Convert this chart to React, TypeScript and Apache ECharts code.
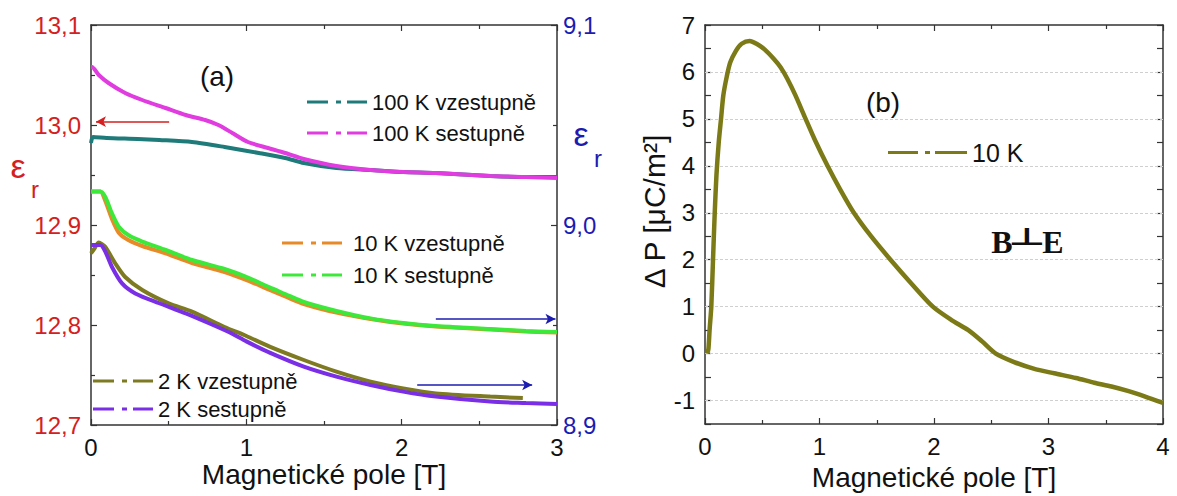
import React, { useEffect, useRef } from "react";
import * as echarts from "echarts";

// ---------- Panel (a): permittivity vs field ----------
const teal100T = [0, 0.013, 0.1, 0.3, 0.44, 0.65, 0.86, 1.08, 1.25, 1.37, 1.58, 1.8, 2.01, 2.22, 2.57, 2.8, 3.0];
const teal100V = [12.982, 12.988, 12.987, 12.986, 12.985, 12.983, 12.978, 12.972, 12.967, 12.962, 12.957, 12.955, 12.953, 12.952, 12.949, 12.948, 12.948];

const mag100T = [0, 0.006, 0.05, 0.113, 0.22, 0.33, 0.48, 0.61, 0.735, 0.82, 0.91, 1.01, 1.14, 1.25, 1.37, 1.58, 1.8, 2.01, 2.22, 2.57, 2.8, 3.0];
const mag100V = [13.058, 13.058, 13.05, 13.042, 13.032, 13.025, 13.017, 13.01, 13.005, 13.0, 12.992, 12.983, 12.977, 12.972, 12.966, 12.959, 12.955, 12.953, 12.952, 12.949, 12.948, 12.947];

const t10T = [0, 0.06, 0.092, 0.135, 0.18, 0.24, 0.33, 0.48, 0.65, 0.86, 1.01, 1.15, 1.25, 1.37, 1.58, 1.8, 2.01, 2.22, 2.57, 2.8, 3.0];
const green10R = [9.0167, 9.0167, 9.014, 9.0058, 8.999, 8.995, 8.9917, 8.9875, 8.9825, 8.978, 8.9737, 8.9688, 8.9655, 8.9615, 8.957, 8.9533, 8.951, 8.9495, 8.948, 8.947, 8.9465];
const orange10R = [9.0167, 9.0167, 9.012, 9.003, 8.996, 8.9925, 8.9895, 8.9858, 8.981, 8.9765, 8.9722, 8.9675, 8.9643, 8.9605, 8.9562, 8.953, 8.9507, 8.9493, 8.9478, 8.9468, 8.9463];

const olive2T = [0, 0.02, 0.05, 0.09, 0.156, 0.22, 0.33, 0.5, 0.65, 0.86, 1.0, 1.15, 1.37, 1.58, 1.8, 2.01, 2.22, 2.57, 2.78];
const olive2R = [8.9858, 8.988, 8.9912, 8.9892, 8.9808, 8.974, 8.9675, 8.9608, 8.9567, 8.949, 8.9445, 8.9392, 8.9325, 8.9267, 8.9217, 8.9183, 8.9158, 8.9142, 8.9135];

const violet2T = [0, 0.06, 0.092, 0.135, 0.2, 0.285, 0.435, 0.61, 0.756, 0.9, 1.0, 1.15, 1.37, 1.58, 1.8, 2.01, 2.22, 2.57, 2.8, 3.0];
const violet2R = [8.99, 8.99, 8.9867, 8.979, 8.9708, 8.9658, 8.961, 8.9558, 8.951, 8.946, 8.9418, 8.9362, 8.9292, 8.9242, 8.92, 8.9167, 8.9142, 8.9117, 8.911, 8.9105];

// arrows (data coordinates): [T start, T end, value]
const redArrow = [0.503, 0.032, 13.0033];
const blueArrow10 = [2.22, 2.99, 8.953];
const blueArrow2 = [2.1, 2.84, 8.92];

const leftTicks = { min: 12.7, max: 13.1, step: 0.1 };
const rightTicks = { min: 8.9, max: 9.1, step: 0.1 };

// ---------- Panel (b): polarization change ----------
const pT = [0.02, 0.03, 0.04, 0.055, 0.07, 0.085, 0.1, 0.12, 0.14, 0.16, 0.19, 0.22, 0.27, 0.32, 0.39, 0.45, 0.52, 0.6, 0.66, 0.72, 0.79, 0.87, 0.96, 1.07, 1.18, 1.3, 1.45, 1.62, 1.8, 1.99, 2.15, 2.3, 2.42, 2.54, 2.7, 2.87, 3.05, 3.24, 3.4, 3.55, 3.7, 3.85, 4.0];
const pV = [0, 0.1, 0.5, 1.0, 2.0, 3.0, 3.8, 4.5, 5.0, 5.5, 5.9, 6.2, 6.45, 6.6, 6.66, 6.6, 6.48, 6.28, 6.1, 5.85, 5.5, 5.05, 4.55, 4.0, 3.5, 3.0, 2.5, 2.0, 1.5, 1.0, 0.72, 0.5, 0.26, 0.0, -0.18, -0.32, -0.42, -0.52, -0.62, -0.7, -0.8, -0.92, -1.05];
const pGridValues = [-1, 0, 1, 2, 3, 4, 5, 6];

const zip = (a: number[], b: number[]) => a.map((x, i) => [x, b[i]]);

const FONT = "Liberation Sans";
const RED = "#d42020";
const BLUE = "#1c1cb0";
const AX = "#333";
const TICK_FS = 24;

const axisLine = { show: true, onZero: false, lineStyle: { color: AX, width: 1.5 } };
const tickIn = { show: true, inside: true, length: 6, lineStyle: { color: AX, width: 1.2 } };
const minorIn = { show: true, splitNumber: 2, length: 4, lineStyle: { color: AX, width: 1.2 } };
const noSplit = { show: false };

const dashDotA = "path://M0,0H21V3H0Z M29,0H34V3H29Z M40,0H60V3H40Z";
const dashDotB = "path://M0,0H30V3H0Z M37,0H42V3H37Z M47,0H79V3H47Z";

const comma = (v: number) => v.toFixed(1).replace(".", ",");

export default function App() {
  const ref = useRef<HTMLDivElement>(null);
  useEffect(() => {
    if (!ref.current) return;
    const chart = echarts.init(ref.current, null, { renderer: "svg" });
    const lineSeries = (name: string, data: number[][], color: string, xi: number, yi: number, extra: any = {}) => ({
      name,
      type: "line",
      xAxisIndex: xi,
      yAxisIndex: yi,
      data,
      color,
      showSymbol: false,
      symbol: "none",
      smooth: 0.25,
      lineStyle: { width: 4, color },
      emphasis: { disabled: true },
      ...extra,
    });
    const arrow = (a: number[], color: string) => ({
      silent: true,
      symbol: ["none", "arrow"],
      symbolSize: [8, 10],
      label: { show: false },
      lineStyle: { color, width: 1.6, type: "solid" },
      emphasis: { disabled: true },
      data: [[{ coord: [a[0], a[2]] }, { coord: [a[1], a[2]] }]],
    });
    const legendBase = {
      orient: "vertical",
      itemWidth: 60,
      itemHeight: 3,
      icon: dashDotA,
      padding: 0,
      selectedMode: false,
      textStyle: { fontSize: 22, color: "#111", fontFamily: FONT, lineHeight: 22 },
    };
    const option: any = {
      animation: false,
      backgroundColor: "#fff",
      textStyle: { fontFamily: FONT },
      grid: [
        { left: 91, top: 25, width: 466, height: 400 },
        { left: 705, top: 25, width: 458, height: 400 },
      ],
      xAxis: [
        {
          gridIndex: 0, type: "value", min: 0, max: 3, interval: 1, position: "bottom",
          axisLine, axisTick: tickIn, minorTick: minorIn, splitLine: noSplit,
          axisLabel: { fontSize: TICK_FS, color: "#111", margin: 10, fontFamily: FONT },
          name: "Magnetické pole [T]", nameLocation: "middle", nameGap: 35, nameMoveOverlap: false,
          nameTextStyle: { fontSize: 28, color: "#111", fontFamily: FONT },
        },
        {
          gridIndex: 0, type: "value", min: 0, max: 3, interval: 1, position: "top",
          axisLine, axisTick: tickIn, minorTick: minorIn, splitLine: noSplit, axisLabel: { show: false },
        },
        {
          gridIndex: 1, type: "value", min: 0, max: 4, interval: 1, position: "bottom",
          axisLine, axisTick: tickIn, minorTick: minorIn, splitLine: noSplit,
          axisLabel: { fontSize: TICK_FS, color: "#111", margin: 10, fontFamily: FONT },
          name: "Magnetické pole [T]", nameLocation: "middle", nameGap: 39, nameMoveOverlap: false,
          nameTextStyle: { fontSize: 28, color: "#111", fontFamily: FONT },
        },
        {
          gridIndex: 1, type: "value", min: 0, max: 4, interval: 1, position: "top",
          axisLine, axisTick: tickIn, minorTick: minorIn, splitLine: noSplit, axisLabel: { show: false },
        },
      ],
      yAxis: [
        {
          gridIndex: 0, type: "value", position: "left", min: leftTicks.min, max: leftTicks.max, interval: leftTicks.step,
          axisLine, axisTick: tickIn, minorTick: minorIn, splitLine: noSplit,
          axisLabel: { fontSize: TICK_FS, color: RED, margin: 10, fontFamily: FONT, formatter: comma },
        },
        {
          gridIndex: 0, type: "value", position: "right", min: rightTicks.min, max: rightTicks.max, interval: rightTicks.step,
          axisLine, axisTick: tickIn, minorTick: minorIn, splitLine: noSplit,
          axisLabel: { fontSize: TICK_FS, color: BLUE, margin: 6, fontFamily: FONT, formatter: comma },
        },
        {
          gridIndex: 1, type: "value", position: "left", min: -1.5, max: 7, interval: 0.5,
          axisLine, axisTick: tickIn, splitLine: noSplit,
          axisLabel: {
            fontSize: TICK_FS, color: "#111", margin: 10, fontFamily: FONT,
            formatter: (v: number) => (Math.abs(v - Math.round(v)) < 1e-6 ? String(Math.round(v)) : ""),
          },
          name: "Δ P [μC/m²]", nameLocation: "middle", nameGap: 34,
          nameTextStyle: { fontSize: 30, color: "#111", fontFamily: FONT, padding: [0, 0, 0, 26] },
        },
        {
          gridIndex: 1, type: "value", position: "right", min: -1.5, max: 7, interval: 0.5,
          axisLine, axisTick: tickIn, splitLine: noSplit, axisLabel: { show: false },
        },
      ],
      legend: [
        { ...legendBase, left: 307, top: 91, itemGap: 9, data: ["100 K vzestupně", "100 K sestupně"] },
        { ...legendBase, left: 282, top: 232, itemGap: 10, data: ["10 K vzestupně", "10 K sestupně"],
          textStyle: { ...legendBase.textStyle, padding: [0, 0, 0, 6] } },
        { ...legendBase, left: 93, top: 370, itemGap: 6, data: ["2 K vzestupně", "2 K sestupně"] },
        { ...legendBase, left: 888, top: 140, itemWidth: 79, icon: dashDotB, data: ["10 K"],
          textStyle: { ...legendBase.textStyle, fontSize: 25, lineHeight: 25 } },
      ],
      graphic: [
        { type: "text", x: 217, y: 76, style: { text: "(a)", fontSize: 28, fill: "#111", fontFamily: FONT, align: "center", verticalAlign: "middle" } },
        { type: "text", x: 883, y: 102, style: { text: "(b)", fontSize: 28, fill: "#111", fontFamily: FONT, align: "center", verticalAlign: "middle" } },
        { type: "text", x: 18, y: 166, style: { text: "ε", fontSize: 34, fill: RED, fontFamily: FONT, align: "center", verticalAlign: "middle" } },
        { type: "text", x: 35, y: 189, style: { text: "r", fontSize: 24, fill: RED, fontFamily: FONT, align: "center", verticalAlign: "middle" } },
        { type: "text", x: 581, y: 134, style: { text: "ε", fontSize: 34, fill: BLUE, fontFamily: FONT, align: "center", verticalAlign: "middle" } },
        { type: "text", x: 598, y: 158, style: { text: "r", fontSize: 24, fill: BLUE, fontFamily: FONT, align: "center", verticalAlign: "middle" } },
        { type: "text", x: 1002, y: 242, style: { text: "B", fontSize: 32, fontWeight: "bold", fill: "#111", fontFamily: "Liberation Serif", align: "center", verticalAlign: "middle" } },
        { type: "text", x: 1027, y: 237, scaleX: 1.7, style: { text: "⊥", fontSize: 24, fontWeight: "bold", fill: "#111", fontFamily: "DejaVu Sans", align: "center", verticalAlign: "middle" } },
        { type: "text", x: 1053, y: 242, style: { text: "E", fontSize: 32, fontWeight: "bold", fill: "#111", fontFamily: "Liberation Serif", align: "center", verticalAlign: "middle" } },
      ],
      series: [
        lineSeries("100 K vzestupně", zip(teal100T, teal100V), "#1f7a7a", 0, 0),
        lineSeries("100 K sestupně", zip(mag100T, mag100V), "#e03ce0", 0, 0, { markLine: arrow(redArrow, RED) }),
        lineSeries("10 K vzestupně", zip(t10T, orange10R), "#e88a28", 0, 1),
        lineSeries("10 K sestupně", zip(t10T, green10R), "#3ee83a", 0, 1, { markLine: arrow(blueArrow10, BLUE) }),
        lineSeries("2 K vzestupně", zip(olive2T, olive2R), "#7d7a22", 0, 1),
        lineSeries("2 K sestupně", zip(violet2T, violet2R), "#7a2ee6", 0, 1, { markLine: arrow(blueArrow2, BLUE) }),
        lineSeries("10 K", zip(pT, pV), "#7b7a16", 2, 2, {
          lineStyle: { width: 4.5, color: "#7b7a16" },
          markLine: {
            silent: true, symbol: ["none", "none"], z: 1, label: { show: false },
            lineStyle: { color: "#cfcfcf", width: 1, type: [3, 2] },
            emphasis: { disabled: true },
            data: pGridValues.map((v) => ({ yAxis: v })),
          },
        }),
      ],
    };
    chart.setOption(option);
    return () => chart.dispose();
  }, []);
  return <div ref={ref} style={{ position: "fixed", left: 0, top: 0, width: 1177, height: 496, background: "#fff" }} />;
}
